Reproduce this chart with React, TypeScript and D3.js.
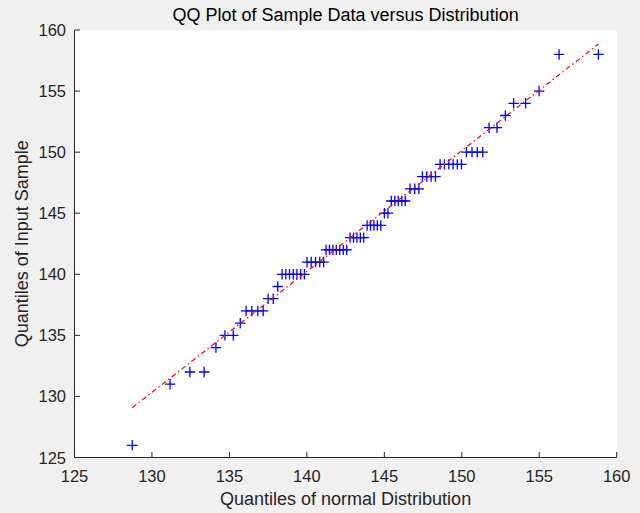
import React from "react";
import * as d3 from "d3";

// Sorted sample values (y) and matching normal-distribution quantiles (x)
const sampleQuantiles: number[] = [
  126,
  131,
  132, 132,
  134,
  135, 135,
  136,
  137, 137, 137, 137,
  138, 138,
  139,
  140, 140, 140, 140, 140, 140, 140,
  141, 141, 141, 141, 141,
  142, 142, 142, 142, 142, 142, 142,
  143, 143, 143, 143, 143,
  144, 144, 144, 144, 144,
  145, 145,
  146, 146, 146, 146, 146,
  147, 147, 147,
  148, 148, 148, 148,
  149, 149, 149, 149, 149, 149,
  150, 150, 150, 150,
  152, 152,
  153,
  154, 154,
  155,
  158, 158,
];

const normalQuantiles: number[] = [
  128.73,
  131.17,
  132.45, 133.37,
  134.13,
  134.71, 135.25,
  135.7,
  136.08, 136.45, 136.83, 137.18,
  137.5, 137.83,
  138.12,
  138.4, 138.64, 138.88, 139.12, 139.36, 139.6, 139.84,
  140.01, 140.28, 140.56, 140.83, 141.08,
  141.24, 141.46, 141.68, 141.9, 142.12, 142.35, 142.57,
  142.79, 143.01, 143.23, 143.45, 143.67,
  143.89, 144.11, 144.33, 144.55, 144.77,
  145.0, 145.23,
  145.45, 145.68, 145.9, 146.13, 146.35,
  146.66, 146.96, 147.23,
  147.46, 147.74, 148.02, 148.3,
  148.6, 148.88, 149.16, 149.44, 149.71, 149.98,
  150.3, 150.66, 151.0, 151.35,
  151.76, 152.27,
  152.81,
  153.35, 154.12,
  154.99,
  156.28, 158.82,
];

// Reference line (dash-dot) endpoints
const refLineX: number[] = [128.73, 158.82];
const refLineY: number[] = [129.08, 158.85];

const xTicks: number[] = [125, 130, 135, 140, 145, 150, 155, 160];
const yTicks: number[] = [125, 130, 135, 140, 145, 150, 155, 160];

const titleText = "QQ Plot of Sample Data versus Distribution";
const xLabelText = "Quantiles of normal Distribution";
const yLabelText = "Quantiles of Input Sample";

const W = 640;
const H = 513;
const left = 74.5;
const right = 616.7;
const top = 30;
const bottom = 457.5;
const font = "'Liberation Sans', Arial, Helvetica, sans-serif";
const axisColor = "#262626";

export default function App() {
  const x = d3.scaleLinear().domain([125, 160]).range([left, right]);
  const y = d3.scaleLinear().domain([125, 160]).range([bottom, top]);
  const m = 5.2;
  const line = d3
    .line<number>()
    .x((_, i) => x(refLineX[i]))
    .y((d) => y(d));

  return (
    <div style={{ position: "fixed", left: 0, top: 0 }}>
      <svg width={W} height={H} style={{ display: "block" }}>
        <rect x={0} y={0} width={W} height={H} fill="#f0f0f0" />
        <rect x={left} y={top} width={right - left} height={bottom - top} fill="#ffffff" />

        {/* markers */}
        <g stroke="#0000ff" strokeWidth={1.3} fill="none">
          {sampleQuantiles.map((v, i) => {
            const cx = x(normalQuantiles[i]);
            const cy = y(v);
            return (
              <path
                key={i}
                d={`M${cx - m},${cy}H${cx + m}M${cx},${cy - m}V${cy + m}`}
              />
            );
          })}
        </g>

        {/* reference line */}
        <path
          d={line(refLineY) || ""}
          stroke="#ff0000"
          strokeWidth={1.2}
          strokeDasharray="5,3,1.5,3"
          fill="none"
        />

        {/* axes */}
        <g stroke={axisColor} strokeWidth={1} fill="none">
          <path d={`M${left},${top}V${bottom}H${right}`} />
          {xTicks.map((t) => (
            <path key={"xt" + t} d={`M${x(t)},${bottom}V${bottom - 5.5}`} />
          ))}
          {yTicks.map((t) => (
            <path key={"yt" + t} d={`M${left},${y(t)}H${left + 5.5}`} />
          ))}
        </g>
        <g fill={axisColor} fontFamily={font} fontSize={16.5}>
          {xTicks.map((t) => (
            <text key={"xl" + t} x={x(t)} y={482} textAnchor="middle">
              {t}
            </text>
          ))}
          {yTicks.map((t) => (
            <text key={"yl" + t} x={66} y={y(t) + 6} textAnchor="end">
              {t}
            </text>
          ))}
        </g>

        <text
          x={(left + right) / 2}
          y={21}
          textAnchor="middle"
          fontFamily={font}
          fontSize={18}
          fill="#000000"
        >
          {titleText}
        </text>
        <text
          x={(left + right) / 2}
          y={505}
          textAnchor="middle"
          fontFamily={font}
          fontSize={18}
          fill={axisColor}
        >
          {xLabelText}
        </text>
        <text
          transform={`translate(28,${(top + bottom) / 2}) rotate(-90)`}
          textAnchor="middle"
          fontFamily={font}
          fontSize={18}
          fill={axisColor}
        >
          {yLabelText}
        </text>
      </svg>
    </div>
  );
}
